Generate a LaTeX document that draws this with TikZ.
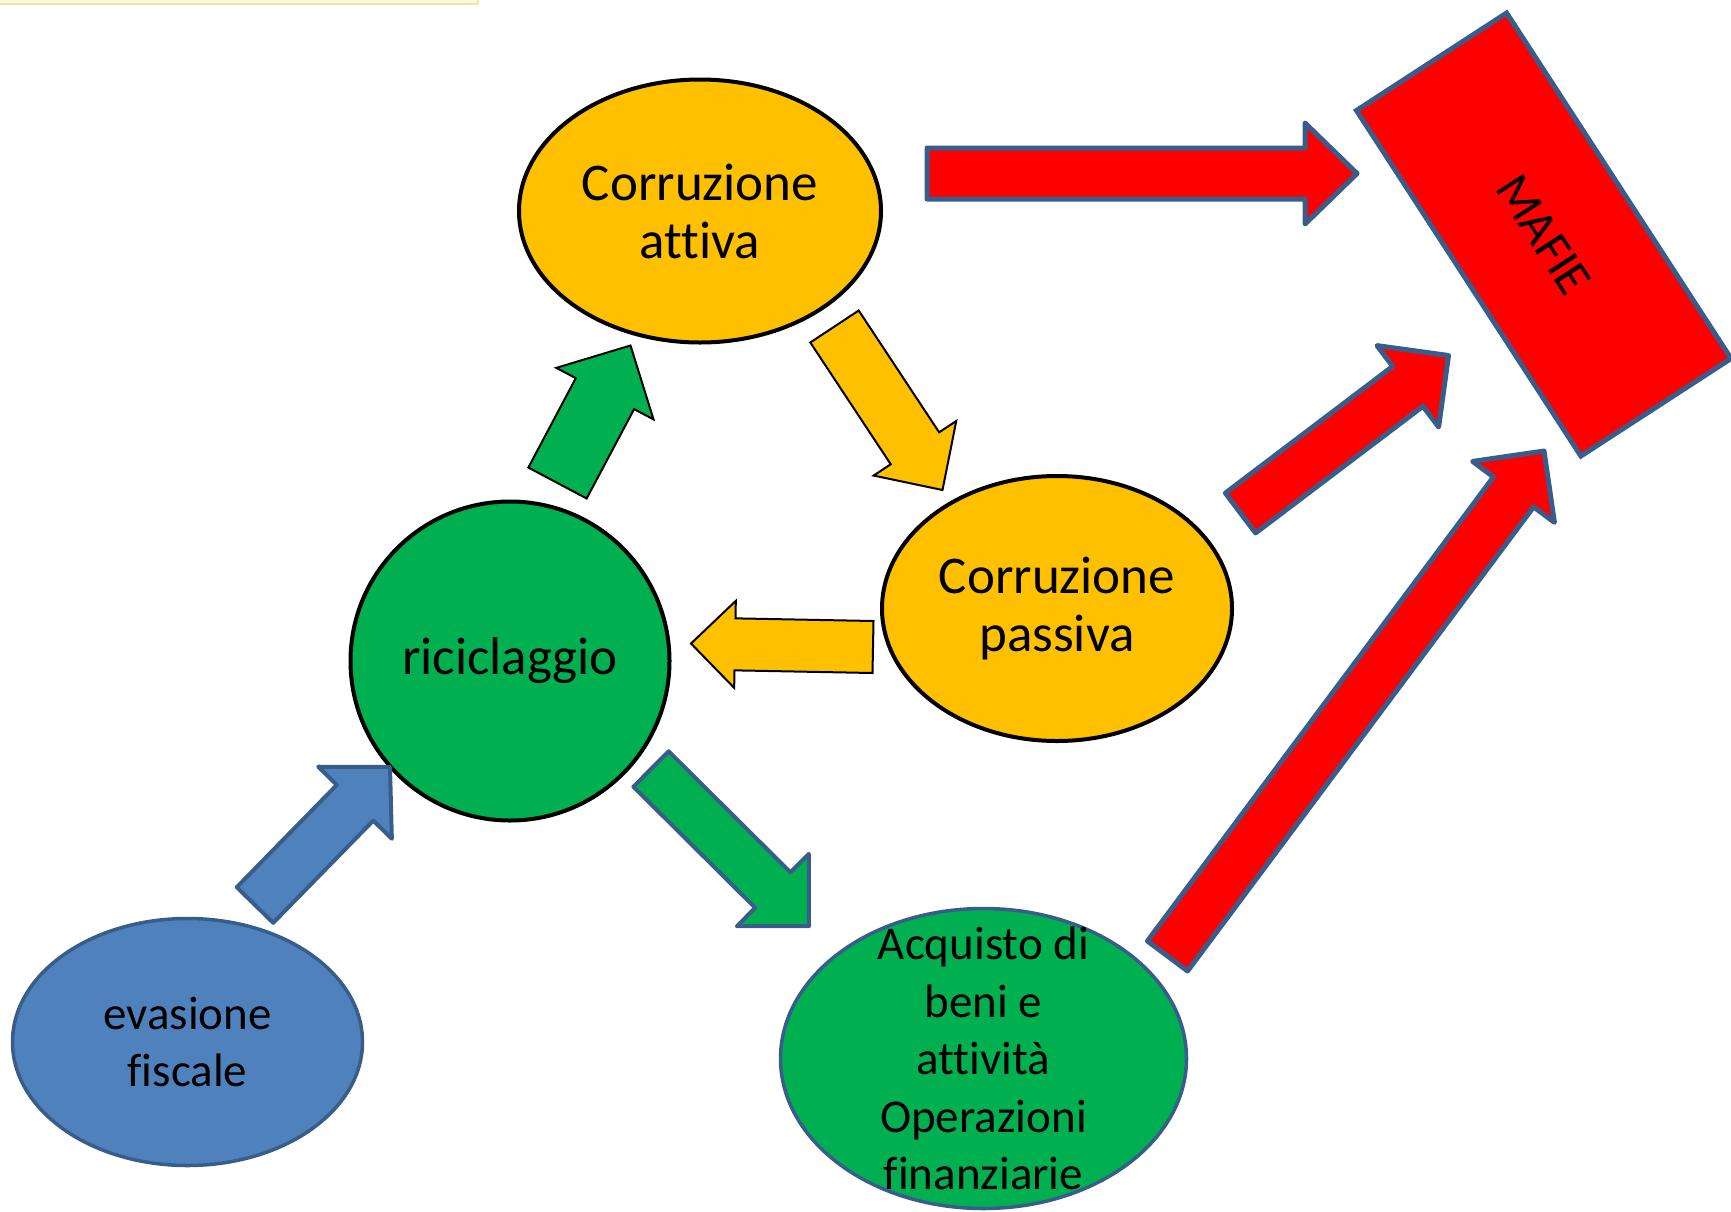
\documentclass[tikz,border=0pt]{standalone}
\usepackage{fontspec}
\setmainfont{Carlito}[Ligatures=NoCommon]
\usetikzlibrary{shapes.geometric,calc}

\definecolor{ogold}{HTML}{FFC000}
\definecolor{ogreen}{HTML}{00B050}
\definecolor{oblue}{HTML}{4F81BD}
\definecolor{oedge}{HTML}{385D8A}
\definecolor{ored}{HTML}{FF0000}
\definecolor{stripfill}{HTML}{FBF8DF}
\definecolor{stripedge}{HTML}{EDE7A6}

% Block arrow: #1 style, #2 tail coordinate, #3 tip coordinate,
% #4 half shaft width, #5 half head width, #6 head length
\newcommand{\blockarrow}[6]{%
  \coordinate (ba-neck) at ($(#3)!#6!(#2)$);
  \path[#1] ($(#2)!#4!90:(#3)$) -- ($(ba-neck)!#4!90:(#3)$)
    -- ($(ba-neck)!#5!90:(#3)$) -- (#3)
    -- ($(ba-neck)!#5!-90:(#3)$) -- ($(ba-neck)!#4!-90:(#3)$)
    -- ($(#2)!#4!-90:(#3)$) -- cycle;}

\tikzset{
  bubble/.style={ellipse, inner sep=0pt, align=center, text=black},
  bigtext/.style={font=\fontsize{53}{58}\selectfont},
  midtext/.style={font=\fontsize{47}{57.5}\selectfont},
  redarrow/.style={fill=ored, draw=oedge, line width=5pt, line join=round},
  goldarrow/.style={fill=ogold, draw=black, line width=2pt, line join=miter},
  greenuparrow/.style={fill=ogreen, draw=black, line width=2pt, line join=miter},
  greenarrow/.style={fill=ogreen, draw=oedge, line width=4pt, line join=round},
  bluearrow/.style={fill=oblue, draw=oedge, line width=4pt, line join=round},
}

\begin{document}
\begin{tikzpicture}[x=1pt, y=-1pt]
\useasboundingbox (0,0) rectangle (1731,1211);

% thin strip along the top edge
\fill[stripfill] (0,0) rectangle (478,4);
\draw[stripedge, line width=1.2pt] (0,4) -- (478,4) -- (478,0);

% main bubbles
\node[bubble, bigtext, fill=ogold, draw=black, line width=4pt,
      minimum width=362pt, minimum height=263pt] (attiva) at (700,211)
      {Corruzione\\attiva};
\node[bubble, bigtext, fill=ogold, draw=black, line width=4pt,
      minimum width=350pt, minimum height=265pt] (passiva) at (1057,608.5)
      {Corruzione\\passiva};
\node[circle, inner sep=0pt, bigtext, fill=ogreen, draw=black, line width=4pt,
      minimum size=319pt] (ricicl) at (510,661) {riciclaggio};
\node[bubble, midtext, fill=oblue, draw=oedge, line width=3.5pt,
      minimum width=350pt, minimum height=247pt] (evasione) at (187.5,1042)
      {evasione\\fiscale};
\node[bubble, fill=ogreen, draw=oedge, line width=3.5pt,
      minimum width=406pt, minimum height=300pt] (acquisto) at (983.5,1058.5) {};
\node[align=center, midtext, inner sep=0pt] (acquisto-text) at (acquisto.center)
      {Acquisto di\\beni e\\attività\\Operazioni\\finanziarie};

% tilted box on the right
\node[draw=oedge, fill=ored, line width=5pt, rotate=-57, inner sep=0pt,
      minimum width=412pt, minimum height=179pt,
      font=\fontsize{50}{60}\selectfont] (mafie) at (1543.75,234.5) {MAFIE};

% arrow end points
\coordinate (a1t) at (927,173.5);   \coordinate (a1h) at (1357,173.5);
\coordinate (a2t) at (1240.5,513);  \coordinate (a2h) at (1448.5,355.5);
\coordinate (a3t) at (1167.5,956);  \coordinate (a3h) at (1544,451);
\coordinate (a4t) at (557.5,483);   \coordinate (a4h) at (630.5,345.5);
\coordinate (a5t) at (834.5,326.5); \coordinate (a5h) at (942.5,490);
\coordinate (a6t) at (873,647);     \coordinate (a6h) at (691,643.5);
\coordinate (a7t) at (255,905);     \coordinate (a7h) at (390,767);
\coordinate (a8t) at (651,769);     \coordinate (a8h) at (809,926);

% block arrows
\blockarrow{redarrow}{a1t}{a1h}{25.5pt}{50.5pt}{52pt}
\blockarrow{redarrow}{a2t}{a2h}{25pt}{51pt}{51pt}
\blockarrow{redarrow}{a3t}{a3h}{25pt}{51pt}{51pt}
\blockarrow{greenuparrow}{a4t}{a4h}{33pt}{55pt}{54.5pt}
\blockarrow{goldarrow}{a5t}{a5h}{29pt}{49.5pt}{50pt}
\blockarrow{goldarrow}{a6t}{a6h}{26pt}{43.5pt}{44pt}
\blockarrow{bluearrow}{a7t}{a7h}{25.5pt}{51.5pt}{50pt}
\blockarrow{greenarrow}{a8t}{a8h}{25pt}{51pt}{51pt}
\end{tikzpicture}
\end{document}
